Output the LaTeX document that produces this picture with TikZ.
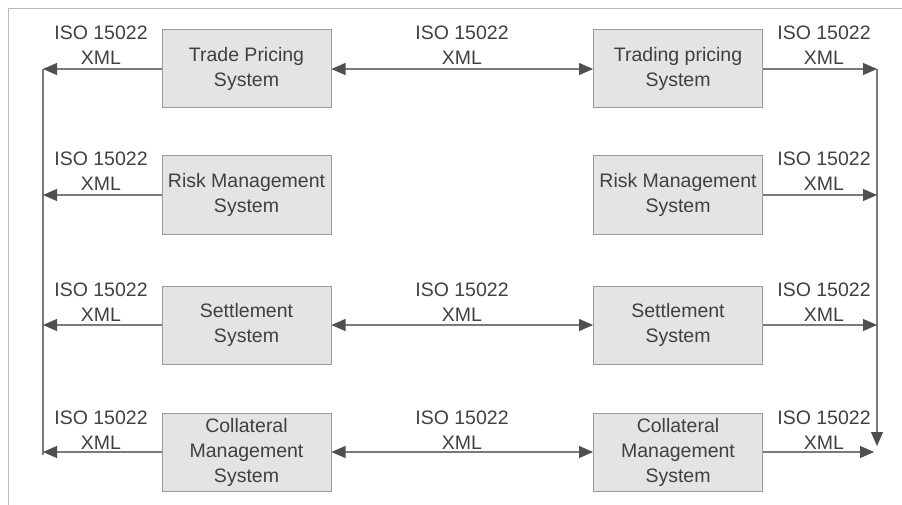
\documentclass[tikz,border=0pt]{standalone}
\usepackage{fontspec}
\setmainfont{Liberation Sans}
\usetikzlibrary{arrows.meta}
\definecolor{boxfill}{HTML}{E4E4E4}
\definecolor{boxline}{HTML}{9A9A9A}
\definecolor{wire}{HTML}{7A7A7A}
\definecolor{tipcol}{HTML}{4F4F4F}
\definecolor{inkgray}{HTML}{404040}
\definecolor{framecol}{HTML}{BBBBBB}
\tikzset{
  sysbox/.style={draw=boxline, line width=1pt, fill=boxfill, minimum width=169pt,
    minimum height=78pt, align=center, text=inkgray, inner sep=0pt},
  msglabel/.style={align=center, text=inkgray, inner sep=0pt},
  wireline/.style={draw=wire, line width=1.1pt},
  tipR/.style={-{Triangle[length=14pt,width=12pt,fill=tipcol,color=tipcol]}},
  tipLR/.style={{Triangle[length=14pt,width=12pt,fill=tipcol,color=tipcol]}-{Triangle[length=14pt,width=12pt,fill=tipcol,color=tipcol]}},
}
\begin{document}
\begin{tikzpicture}[x=1pt,y=-1pt,font=\fontsize{19.5}{25}\selectfont]
\useasboundingbox (0,0) rectangle (902,505);
% page frame
\draw[framecol, line width=0.8pt] (902,8) -- (8,8) -- (8,505);

% system boxes
\node[sysbox] (L1) at (246.5,69)  {Trade Pricing\\System};
\node[sysbox] (L2) at (246.5,195) {Risk Management\\System};
\node[sysbox] (L3) at (246.5,325) {Settlement\\System};
\node[sysbox] (L4) at (246.5,452) {Collateral\\Management\\System};
\node[sysbox] (R1) at (678,69)  {Trading pricing\\System};
\node[sysbox] (R2) at (678,195) {Risk Management\\System};
\node[sysbox] (R3) at (678,325) {Settlement\\System};
\node[sysbox] (R4) at (678,452) {Collateral\\Management\\System};

% collector lines on both sides
\coordinate (lt) at (43,69);
\coordinate (lb) at (43,455);
\coordinate (rt) at (877,69);
\coordinate (rb) at (877,446);
\draw[wireline] (lt) -- (lb);
\draw[wireline, tipR] (rt) -- (rb);

% outgoing messages
\foreach \n in {L1,L2,L3,L4}
  \draw[wireline, tipR] (\n.west) -- (\n.west -| lt);
\foreach \n in {R1,R2,R3}
  \draw[wireline, tipR] (\n.east) -- (\n.east -| rt);
\draw[wireline, tipR, shorten >=3pt] (R4.east) -- (R4.east -| rt);

% exchanges between counterparties
\draw[wireline, tipLR] (L1.east) -- (R1.west);
\draw[wireline, tipLR] (L3.east) -- (R3.west);
\draw[wireline, tipLR] (L4.east) -- (R4.west);

% message format labels
\node[msglabel] (a1) at (101,45)  {ISO 15022\\XML};
\node[msglabel] (a2) at (101,171) {ISO 15022\\XML};
\node[msglabel] (a3) at (101,302) {ISO 15022\\XML};
\node[msglabel] (a4) at (101,430) {ISO 15022\\XML};
\node[msglabel] (m1) at (462,45)  {ISO 15022\\XML};
\node[msglabel] (m3) at (462,302) {ISO 15022\\XML};
\node[msglabel] (m4) at (462,430) {ISO 15022\\XML};
\node[msglabel] (b1) at (824,45)  {ISO 15022\\XML};
\node[msglabel] (b2) at (824,171) {ISO 15022\\XML};
\node[msglabel] (b3) at (824,302) {ISO 15022\\XML};
\node[msglabel] (b4) at (824,430) {ISO 15022\\XML};
\end{tikzpicture}
\end{document}
